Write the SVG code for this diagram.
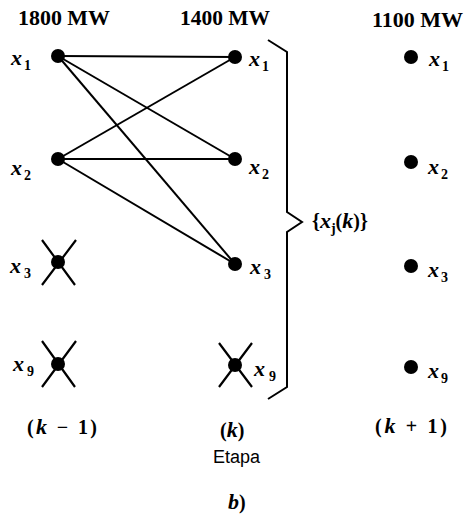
<svg xmlns="http://www.w3.org/2000/svg" width="464" height="516" viewBox="0 0 464 516">
<style>
.hd{font-family:"Liberation Serif",serif;font-weight:bold;font-size:20px;fill:#000}
.v{font-family:"Liberation Serif",serif;font-weight:bold;font-style:italic;font-size:22px;fill:#000}
.s{font-family:"Liberation Serif",serif;font-weight:bold;font-size:14px;fill:#000}
.st{font-family:"Liberation Serif",serif;font-weight:bold;font-size:20px;fill:#000}
.sans{font-family:"Liberation Sans",Arial,sans-serif;font-size:18px;fill:#000}
.e{stroke:#000;stroke-width:2;fill:none}
.x{stroke:#000;stroke-width:2.2;fill:none}
.br{stroke:#000;stroke-width:2;fill:none;stroke-linejoin:miter}
</style>
<rect width="464" height="516" fill="#fff"/>
<text class="hd" x="18" y="25" textLength="92" lengthAdjust="spacingAndGlyphs">1800 MW</text>
<text class="hd" x="180" y="25" textLength="90" lengthAdjust="spacingAndGlyphs">1400 MW</text>
<text class="hd" x="372" y="27" textLength="91" lengthAdjust="spacingAndGlyphs">1100 MW</text>
<g id="connectors">
<line class="e" x1="58" y1="56" x2="235" y2="57"/>
<line class="e" x1="58" y1="56" x2="235" y2="159"/>
<line class="e" x1="58" y1="56" x2="235" y2="264"/>
<line class="e" x1="58" y1="159" x2="235" y2="57"/>
<line class="e" x1="58" y1="159" x2="235" y2="159"/>
<line class="e" x1="58" y1="159" x2="235" y2="264"/>
</g>
<g id="L1"><circle cx="58" cy="56" r="7"/><text class="v" x="11" y="65">x</text><text class="s" x="24" y="70">1</text></g>
<g id="L2"><circle cx="58" cy="159" r="7"/><text class="v" x="11" y="175">x</text><text class="s" x="24" y="180">2</text></g>
<g id="L3"><circle cx="58" cy="262" r="7"/><path class="x" d="M42 240 L75 285 M76 240 L42 285"/><text class="v" x="10" y="273">x</text><text class="s" x="24" y="278">3</text></g>
<g id="L9"><circle cx="58" cy="364" r="7"/><path class="x" d="M42 341 L75 387 M76 341 L42 387"/><text class="v" x="13" y="371">x</text><text class="s" x="27" y="376">9</text></g>
<g id="M1"><circle cx="235" cy="57" r="7"/><text class="v" x="249" y="66">x</text><text class="s" x="262" y="71">1</text></g>
<g id="M2"><circle cx="235" cy="159" r="7"/><text class="v" x="249" y="174">x</text><text class="s" x="262" y="179">2</text></g>
<g id="M3"><circle cx="235" cy="264" r="7"/><text class="v" x="250" y="274">x</text><text class="s" x="264" y="279">3</text></g>
<g id="M9"><circle cx="235" cy="365" r="7"/><path class="x" d="M219 343 L252 387 M252 343 L219 387"/><text class="v" x="254" y="376">x</text><text class="s" x="269" y="381">9</text></g>
<g id="R1"><circle cx="411" cy="57" r="7"/><text class="v" x="429" y="66">x</text><text class="s" x="442" y="71">1</text></g>
<g id="R2"><circle cx="411" cy="162" r="7"/><text class="v" x="428" y="174">x</text><text class="s" x="441" y="179">2</text></g>
<g id="R3"><circle cx="411" cy="266" r="7"/><text class="v" x="428" y="277">x</text><text class="s" x="441" y="282">3</text></g>
<g id="R9"><circle cx="411" cy="367" r="7"/><text class="v" x="428" y="378">x</text><text class="s" x="441" y="383">9</text></g>
<g id="brace">
<path class="br" d="M268 40 L287 52 L287 212 L302 222 L287 232 L287 387 L268 399"/>
<text x="312" y="228"><tspan class="st">{</tspan><tspan class="v">x</tspan><tspan class="s" dy="5">j</tspan><tspan class="st" dy="-5">(</tspan><tspan class="v">k</tspan><tspan class="st">)}</tspan></text>
</g>
<text x="27" y="434" textLength="70" lengthAdjust="spacing"><tspan class="st">(</tspan><tspan class="v">k</tspan><tspan class="st"> − 1)</tspan></text>
<text x="220" y="437"><tspan class="st">(</tspan><tspan class="v">k</tspan><tspan class="st">)</tspan></text>
<text class="sans" x="213" y="463">Etapa</text>
<text x="375" y="433" textLength="72" lengthAdjust="spacing"><tspan class="st">(</tspan><tspan class="v">k</tspan><tspan class="st"> + 1)</tspan></text>
<text x="228" y="509"><tspan class="v">b</tspan><tspan class="st">)</tspan></text>
</svg>
